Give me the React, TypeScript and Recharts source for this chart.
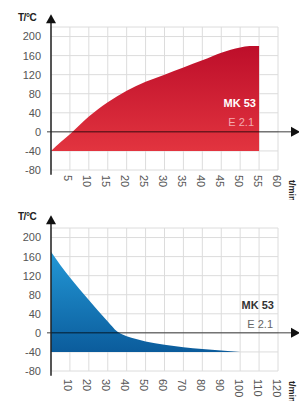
import React from 'react'
import { AreaChart, Area, XAxis, YAxis, CartesianGrid, ReferenceLine } from 'recharts'

// heating curve MK 53 (t in min, T in °C)
const heatTime = [0, 2.5, 5, 7.5, 10, 15, 20, 25, 30, 35, 40, 45, 50, 52.5, 55]
const heatTemp = [-40, -22, -5, 14, 32, 62, 86, 105, 120, 135, 150, 166, 177, 180, 180]

// cooling curve E 2.1
const coolTime = [0, 5, 10, 15, 20, 25, 30, 35, 40, 45, 50, 60, 70, 80, 90, 100]
const coolTemp = [170, 142, 116, 92, 69, 46, 24, 3, -7, -13, -18, -25, -30, -34, -37, -40]

const tempTicks = [-80, -40, 0, 40, 80, 120, 160, 200]
const heatTicks = [5, 10, 15, 20, 25, 30, 35, 40, 45, 50, 55, 60]
const coolTicks = [10, 20, 30, 40, 50, 60, 70, 80, 90, 100, 110, 120]

const heatData = heatTime.map((t, i) => ({ t, T: heatTemp[i] }))
const coolData = coolTime.map((t, i) => ({ t, T: coolTemp[i] }))

const FONT = '"Liberation Sans", Arial, Helvetica, sans-serif'

const RotTick = ({ x, y, payload, dy }: any) => (
  <text
    transform={`translate(${x - 5.5},${y + dy}) rotate(90)`}
    textAnchor="start"
    fontSize={11}
    fill="#555"
    fontFamily={FONT}
  >
    {payload.value}
  </text>
)

// vertical axis with arrow head on top
const VArrow = ({ x1, y1, x2, y2 }: any) => {
  const top = Math.min(y1, y2)
  const bottom = Math.max(y1, y2)
  return (
    <g>
      <line x1={x1} x2={x2} y1={top + 6} y2={bottom} stroke="#222" strokeWidth={1.5} />
      <polygon points={`${x1},${top} ${x1 - 5},${top + 9} ${x1 + 5},${top + 9}`} fill="#111" />
    </g>
  )
}

// horizontal zero line with arrow head on the right
const HArrow = ({ x1, y1, x2, y2 }: any) => {
  const left = Math.min(x1, x2)
  const right = Math.max(x1, x2)
  return (
    <g>
      <line x1={left} x2={right - 6} y1={y1} y2={y2} stroke="#000" strokeOpacity={0.5} strokeWidth={1.5} />
      <polygon points={`${right},${y1} ${right - 9},${y1 - 5} ${right - 9},${y1 + 5}`} fill="#111" />
    </g>
  )
}

const YLabel = ({ viewBox, up }: any) => (
  <text
    x={viewBox.x + 18}
    y={viewBox.y - up}
    fontSize={10}
    fontWeight="bold"
    fill="#222"
    fontFamily={FONT}
    letterSpacing={-0.5}
  >
    T/°C
  </text>
)

const XLabel = ({ viewBox, dy }: any) => (
  <text
    transform={`translate(${viewBox.x + viewBox.width + 11},${viewBox.y + dy}) rotate(90)`}
    fontSize={9}
    fontWeight="bold"
    fill="#222"
    fontFamily={FONT}
  >
    t/min
  </text>
)

interface PanelProps {
  data: { t: number; T: number }[]
  ticks: number[]
  xMax: number
  gradId: string
  colTop: string
  colBottom: string
  tickDy: number
  labelUp: number
}

function Panel({ data, ticks, xMax, gradId, colTop, colBottom, tickDy, labelUp }: PanelProps) {
  const unit = xMax / 227
  return (
    <AreaChart width={299} height={200} data={data} margin={{ top: 27, right: 21, left: 0, bottom: 0 }}>
      <defs>
        <linearGradient id={gradId} x1="0" y1="0" x2="0" y2="1">
          <stop offset="0%" stopColor={colTop} />
          <stop offset="100%" stopColor={colBottom} />
        </linearGradient>
      </defs>
      <CartesianGrid stroke="#dcdcdc" strokeWidth={1} />
      <XAxis
        dataKey="t"
        type="number"
        domain={[0, xMax]}
        ticks={ticks}
        interval={0}
        axisLine={false}
        tickLine={false}
        tickSize={0}
        tickMargin={0}
        height={30}
        tick={<RotTick dy={tickDy} />}
        label={<XLabel dy={10} />}
      />
      <YAxis
        type="number"
        domain={[-80, 220]}
        ticks={tempTicks}
        interval={0}
        width={51}
        axisLine={false}
        tickLine={false}
        tickSize={8}
        tickMargin={2}
        tick={{ fontSize: 11, fill: '#555', fontFamily: FONT }}
        label={<YLabel up={labelUp} />}
      />
      <Area
        type="monotone"
        dataKey="T"
        baseValue={-40}
        stroke="none"
        fill={`url(#${gradId})`}
        fillOpacity={1}
        isAnimationActive={false}
      />
      <ReferenceLine
        segment={[{ x: -4 * unit, y: 0 }, { x: xMax + 22 * unit, y: 0 }]}
        ifOverflow="visible"
        shape={HArrow}
      />
      <ReferenceLine
        segment={[{ x: 0, y: -90 }, { x: 0, y: 247 }]}
        ifOverflow="visible"
        shape={VArrow}
      />
    </AreaChart>
  )
}

const note: React.CSSProperties = {
  position: 'absolute',
  fontFamily: FONT,
  fontSize: 11,
  lineHeight: '13px',
  textAlign: 'right',
}

export default function App() {
  return (
    <div style={{ position: 'absolute', left: 0, top: 0, width: 299, height: 401, background: '#fff', overflow: 'hidden' }}>
      <div style={{ position: 'absolute', left: 0, top: 0 }}>
        <Panel
          data={heatData}
          ticks={heatTicks}
          xMax={60}
          gradId="heatFill"
          colTop="#bd0e2a"
          colBottom="#e2343f"
          tickDy={5}
          labelUp={6}
        />
      </div>
      <div style={{ ...note, right: 299 - 256, top: 97, color: '#fff', fontWeight: 'bold' }}>MK 53</div>
      <div style={{ ...note, right: 299 - 254, top: 116, color: '#f4aab0' }}>E 2.1</div>

      <div style={{ position: 'absolute', left: 0, top: 201 }}>
        <Panel
          data={coolData}
          ticks={coolTicks}
          xMax={120}
          gradId="coolFill"
          colTop="#2398d6"
          colBottom="#0b5c9c"
          tickDy={8}
          labelUp={8}
        />
      </div>
      <div style={{ ...note, right: 299 - 274, top: 299, color: '#333', fontWeight: 'bold' }}>MK 53</div>
      <div style={{ ...note, right: 299 - 273, top: 318, color: '#666' }}>E 2.1</div>
    </div>
  )
}
